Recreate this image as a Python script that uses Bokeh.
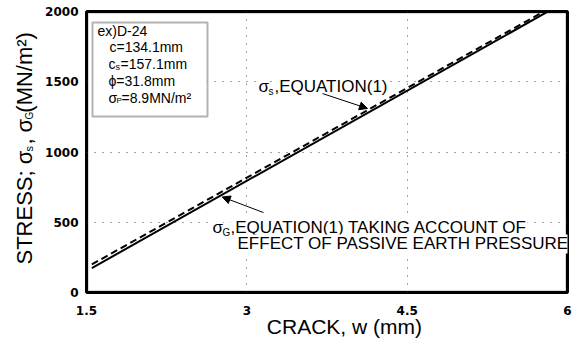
from math import pi

from bokeh.embed import file_html
from bokeh.models import (Arrow, BoxAnnotation, FixedTicker, Label, NormalHead,
                          Range1d)
from bokeh.plotting import figure
from bokeh.resources import INLINE

# ---- data -------------------------------------------------------------
crack_w = [1.55, 5.85]              # crack width w (mm)
sigma_s = [200, 2030]               # sigma_s, equation (1)
sigma_g = [174, 2014]               # sigma_G, with passive earth pressure

x_ticks = [1.5, 3, 4.5, 6]
x_tick_labels = ["1.5", "3", "4.5", "6"]
y_ticks = [0, 500, 1000, 1500, 2000]

FONT = "Liberation Sans"
TICK_FONT = "DejaVu Sans"

p = figure(width=572, height=345, output_backend="svg", toolbar_location=None,
           x_range=Range1d(1.5, 6), y_range=Range1d(0, 2000),
           min_border_left=86, min_border_right=5, min_border_top=11,
           min_border_bottom=53, background_fill_color="white",
           border_fill_color="white")

p.outline_line_color = "black"
p.outline_line_width = 3

# axes
p.xaxis.ticker = FixedTicker(ticks=x_ticks)
p.xaxis.major_label_overrides = dict(zip(x_ticks, x_tick_labels))
p.yaxis.ticker = FixedTicker(ticks=y_ticks)
for ax in (p.xaxis, p.yaxis):
    ax.axis_line_color = None
    ax.major_tick_line_color = None
    ax.minor_tick_line_color = None
    ax.major_tick_out = 0
    ax.major_tick_in = 0
    ax.major_label_text_font = TICK_FONT
    ax.major_label_text_font_style = "bold"
    ax.major_label_text_font_size = "12px"
    ax.major_label_text_color = "black"
p.xaxis.major_label_standoff = 13
p.yaxis.major_label_standoff = 8

# dotted grid
for g in (p.xgrid, p.ygrid):
    g.grid_line_color = "#444444"
    g.grid_line_dash = "1 7"
    g.grid_line_width = 1

# heavy frame around the plotting area
p.add_layout(BoxAnnotation(fill_color=None, line_color="black", line_width=4))

# ---- lines ------------------------------------------------------------
p.line(crack_w, sigma_g, line_color="black", line_width=2)
p.line(crack_w, sigma_s, line_color="black", line_width=2, line_dash="7 4")


def txt(x, y, text, size, dx=0, dy=0, bg=True, angle=0.0, place="center",
        align="left"):
    # (x, y) is the baseline start; lift the text box onto that baseline
    lift = 0.33 * size
    if angle:
        dx -= lift
    else:
        dy += lift
    lab = Label(x=x, y=y, text=text, x_offset=dx, y_offset=dy, angle=angle,
                text_font=FONT, text_font_size=f"{size}px",
                text_color="black",
                text_align=align, text_baseline="alphabetic",
                background_fill_color="white" if bg else None)
    p.add_layout(lab, place)


# ---- curve annotations -------------------------------------------------
txt(3.109, 1423, "σ", 17)
txt(3.109, 1423, "s", 10, dx=10, dy=-2)
txt(3.109, 1423, ",EQUATION(1)", 17, dx=16)
p.add_layout(Arrow(x_start=3.708, y_start=1416, x_end=4.129, y_end=1310,
                   line_width=1, line_color="black",
                   end=NormalHead(size=8, fill_color="black", line_color="black")))

txt(2.679, 420, "σ", 17)
txt(2.679, 420, "G", 10, dx=10, dy=-2)
txt(2.679, 420, ",EQUATION(1) TAKING ACCOUNT OF", 17, dx=18)
txt(2.913, 306, "EFFECT OF PASSIVE EARTH PRESSURE", 17)
p.add_layout(Arrow(x_start=3.156, y_start=569, x_end=2.77, y_end=680,
                   line_width=1, line_color="black",
                   end=NormalHead(size=8, fill_color="black", line_color="black")))

# ---- specimen box -----------------------------------------------------
p.add_layout(BoxAnnotation(left=1.556, right=2.632, top=1921, bottom=1253,
                           fill_color="white", fill_alpha=1.0,
                           line_color="black", line_width=2))
txt(1.603, 1829, "ex)D-24", 14, bg=False)
txt(1.715, 1711, "c=134.1mm", 14, bg=False)
txt(1.706, 1593, "c", 14, bg=False)
txt(1.706, 1593, "s", 9, dx=7, dy=-1, bg=False)
txt(1.706, 1593, "=157.1mm", 14, dx=12, bg=False)
txt(1.706, 1474, "ϕ=31.8mm", 14, bg=False)
txt(1.706, 1355, "σ", 14, bg=False)
txt(1.706, 1355, "P", 8, dx=8, dy=-1, bg=False)
txt(1.706, 1355, "=8.9MN/m²", 14, dx=13, bg=False)

# ---- axis titles ------------------------------------------------------
txt(3.913, -292, "CRACK, w (mm)", 21, bg=False, place="below", align="center")

# y title: one rotated line, subscripts dropped into the gaps
ylx, yly = 0.9855, 199
txt(ylx, yly, "STRESS; σ , σ  (MN/m²)", 22, angle=pi / 2, bg=False, place="left")
txt(ylx, yly, "s", 11, dx=1, dy=113, angle=pi / 2, bg=False, place="left")
txt(ylx, yly, "G", 10, dx=1, dy=145, angle=pi / 2, bg=False, place="above")

open("out.html", "w").write(file_html(p, INLINE))
